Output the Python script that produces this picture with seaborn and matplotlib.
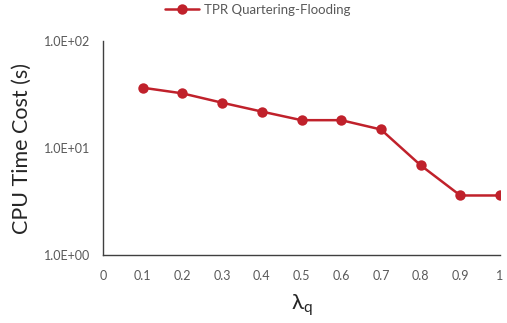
import seaborn as sns
import pandas as pd
import matplotlib.pyplot as plt
from matplotlib.ticker import FixedLocator, FuncFormatter, NullLocator

# data
lambda_q = [0.1, 0.2, 0.3, 0.4, 0.5, 0.6, 0.7, 0.8, 0.9, 1.0]
cpu_time = [36.6, 32.4, 26.5, 21.9, 18.2, 18.2, 14.9, 6.9, 3.6, 3.6]
x_ticks = [0, 0.1, 0.2, 0.3, 0.4, 0.5, 0.6, 0.7, 0.8, 0.9, 1]
x_tick_labels = ["0", "0.1", "0.2", "0.3", "0.4", "0.5", "0.6", "0.7", "0.8", "0.9", "1"]
y_ticks = [1, 10, 100]
series_name = "TPR Quartering-Flooding"

df = pd.DataFrame({"lambda": lambda_q, "time": cpu_time, "series": series_name})

sns.set_theme(style="white")
plt.rcParams["font.family"] = ["Lato", "DejaVu Sans"]

red = "#C0212B"
grey = "#595959"

fig = plt.figure(figsize=(5.07, 3.23), dpi=100)
ax = fig.add_axes([103 / 507, 1 - 255 / 323, 397 / 507, 214 / 323])

sns.lineplot(data=df, x="lambda", y="time", hue="series", palette=[red],
             marker="o", markersize=7.5, markeredgewidth=0, linewidth=1.8,
             ax=ax, legend=True)

ax.set_yscale("log")
ax.set_ylim(1, 100)
ax.set_xlim(0, 1)
ax.yaxis.set_major_locator(FixedLocator(y_ticks))
ax.yaxis.set_minor_locator(NullLocator())
ax.yaxis.set_major_formatter(FuncFormatter(lambda v, p: "%.1E" % v))
ax.set_xticks(x_ticks)
ax.set_xticklabels(x_tick_labels)

for side in ["top", "right"]:
    ax.spines[side].set_visible(False)
for side in ["left", "bottom"]:
    ax.spines[side].set_color("#404040")
    ax.spines[side].set_linewidth(1.0)

ax.tick_params(axis="both", which="major", direction="out", length=4, width=1,
               color="#404040", labelsize=9, labelcolor=grey, pad=5)
ax.tick_params(axis="x", pad=7)

ax.set_xlabel(r"$\mathregular{\lambda_q}$", fontsize=16, color="#262626", labelpad=7)
ax.set_ylabel("CPU Time Cost (s)", fontsize=15.5, color="#262626", labelpad=9)

handles, labels = ax.get_legend_handles_labels()
ax.legend(handles, labels, loc="upper center", bbox_to_anchor=(0.508, 1.005),
          bbox_transform=fig.transFigure, frameon=False, fontsize=9.5,
          handlelength=2.6, handletextpad=0.4, labelcolor=grey, borderaxespad=0)

fig.savefig("out.png", dpi=100)
